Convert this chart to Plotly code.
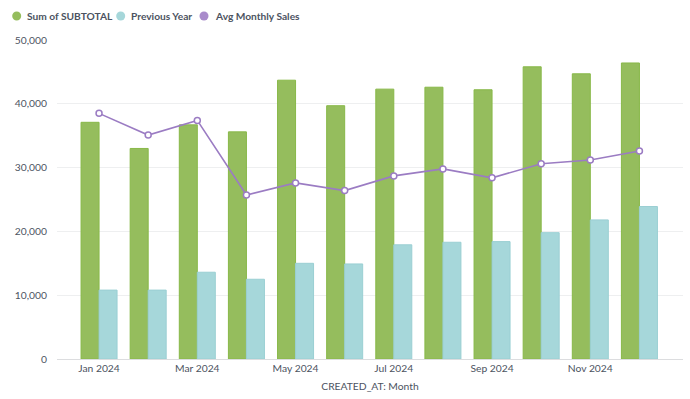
import plotly.graph_objects as go

months = ["Jan 2024", "Feb 2024", "Mar 2024", "Apr 2024", "May 2024", "Jun 2024",
          "Jul 2024", "Aug 2024", "Sep 2024", "Oct 2024", "Nov 2024", "Dec 2024"]
sum_subtotal = [37100, 33000, 36700, 35600, 43700, 39700, 42300, 42600, 42200, 45800, 44700, 46400]
previous_year = [10800, 10800, 13600, 12500, 15000, 14900, 17900, 18300, 18400, 19800, 21800, 23900]
avg_monthly = [38500, 35100, 37400, 25700, 27600, 26400, 28700, 29800, 28400, 30600, 31200, 32600]
series_names = ["Sum of SUBTOTAL", "Previous Year", "Avg Monthly Sales"]
y_ticks = [0, 10000, 20000, 30000, 40000, 50000]
x_tick_labels = ["Jan 2024", "Mar 2024", "May 2024", "Jul 2024", "Sep 2024", "Nov 2024"]

GREEN = "#95BD5D"
GREEN_EDGE = "#88B848"
BLUE = "#A6D7DA"
BLUE_EDGE = "#9ACFD3"
PURPLE = "#9B7CC3"
TEXT = "#4C5361"
FONT = "Lato"

W, H = 690, 399
ML, MR, MT, MB = 57, 7, 40, 40
PW, PH = W - ML - MR, H - MT - MB

def px_x(px):
    return (px - ML) / PW

def px_y(py):
    return (H - MB - py) / PH

idx = list(range(len(months)))

fig = go.Figure()
fig.add_trace(go.Bar(x=idx, y=sum_subtotal, name=series_names[0],
                     marker=dict(color=GREEN, line=dict(color=GREEN_EDGE, width=1)),
                     showlegend=False))
fig.add_trace(go.Bar(x=idx, y=previous_year, name=series_names[1],
                     marker=dict(color=BLUE, line=dict(color=BLUE_EDGE, width=1)),
                     showlegend=False))
fig.add_trace(go.Scatter(x=idx, y=avg_monthly, name=series_names[2], mode="lines+markers",
                         line=dict(color=PURPLE, width=1.6),
                         marker=dict(symbol="circle", size=6, color="white",
                                     line=dict(color=PURPLE, width=1.5)),
                         showlegend=False))

# legend drawn manually (circle shapes + text annotations)
legend_colors = [GREEN, BLUE, "#A98BCB"]
legend_circle_px = [16.7, 120.7, 204]
legend_text_px = [25, 129.3, 212.7]
legend_y = 16
annotations = []
shapes = []
for name, col, cx, tx in zip(series_names, legend_colors, legend_circle_px, legend_text_px):
    shapes.append(dict(type="circle", xref="paper", yref="paper",
                       xsizemode="pixel", ysizemode="pixel",
                       xanchor=px_x(cx), yanchor=px_y(legend_y),
                       x0=-4.5, x1=4.5, y0=-4.5, y1=4.5,
                       fillcolor=col, line=dict(width=0)))
    annotations.append(dict(
        x=px_x(tx), y=px_y(legend_y), xref="paper", yref="paper",
        xanchor="left", yanchor="middle", showarrow=False,
        text=name, font=dict(family=FONT, size=10.2, color=TEXT, weight=700),
    ))

fig.update_layout(
    width=W, height=H,
    margin=dict(l=ML, r=MR, t=MT, b=MB),
    paper_bgcolor="white", plot_bgcolor="white",
    barmode="group", bargap=0.267, bargroupgap=0,
    font=dict(family=FONT, size=10.3, color=TEXT),
    showlegend=False,
    annotations=annotations,
    shapes=shapes,
    xaxis=dict(
        range=[-0.856, 11.887],
        tickmode="array",
        tickvals=[months.index(m) for m in x_tick_labels],
        ticktext=x_tick_labels,
        showgrid=False, zeroline=False,
        showline=True, linecolor="#DCDDDF", linewidth=1,
        ticks="", tickfont=dict(family=FONT, size=10.3, color=TEXT),
        title=dict(text="CREATED_AT: Month", font=dict(family=FONT, size=10.3, color=TEXT), standoff=9),
    ),
    yaxis=dict(
        range=[0, 50000],
        tickmode="array", tickvals=y_ticks, tickformat=",",
        showgrid=True, gridcolor="#EEEFF0", gridwidth=1,
        zeroline=False, showline=False, ticks="",
        ticklabelstandoff=9,
        tickfont=dict(family=FONT, size=10.3, color=TEXT),
    ),
)

fig.write_html("out.html", config={"displayModeBar": False},
               post_script="document.body.style.margin='0';document.body.style.padding='0';")
